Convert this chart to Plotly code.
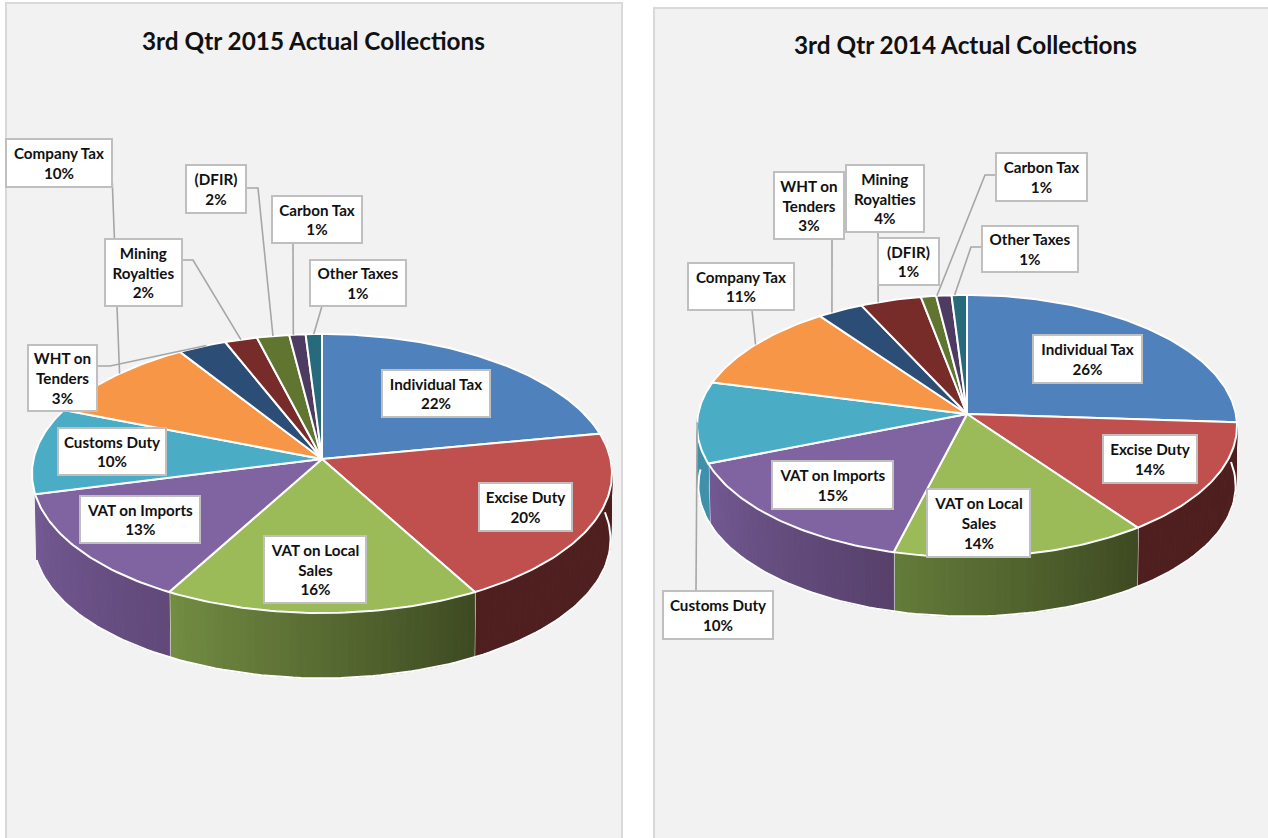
import numpy as np
import plotly.graph_objects as go

# Revenue shares, clockwise from 12 o'clock
categories = ["Individual Tax", "Excise Duty", "VAT on Local Sales", "VAT on Imports",
              "Customs Duty", "Company Tax", "WHT on Tenders", "Mining Royalties",
              "(DFIR)", "Carbon Tax", "Other Taxes"]
shares_2015 = [22, 20, 16, 13, 10, 10, 3, 2, 2, 1, 1]
shares_2014 = [26, 14, 14, 15, 10, 11, 3, 4, 1, 1, 1]

# Label wording with the forced line breaks used in the boxes
label_text = ["Individual Tax", "Excise Duty", "VAT on Local<br>Sales", "VAT on Imports",
              "Customs Duty", "Company Tax", "WHT on<br>Tenders", "Mining<br>Royalties",
              "(DFIR)", "Carbon Tax", "Other Taxes"]

top_colors = ["#4f81bd", "#c0504d", "#9bbb59", "#8064a2", "#4bacc6", "#f79646",
              "#2c4d75", "#772c2a", "#5f7530", "#4d3b62", "#276a7c"]
# Wall shading per slice: colour at the clockwise start, colour at the clockwise end
shades_2015 = {1: ("#4e1f1e", "#4e1f1e"), 2: ("#3e4a22", "#738d43"), 3: ("#62497a", "#745a94")}
shades_2014 = {1: ("#4e1f1e", "#4e1f1e"), 2: ("#3e4a22", "#647c3a"), 3: ("#57416b", "#745a94"),
               4: ("#3f91ab", "#3f91ab")}

# Pie geometry: centre, half width, vertical radius, perspective, wall depth,
# base scale, and the clockwise angle where the visible wall stops
geom_2015 = dict(cx=322, cy=459, widest=290, ry=138, k=0.104, depth=66, base=0.995, wall_end=255.6)
geom_2014 = dict(cx=967, cy=414, widest=270, ry=130, k=0.092, depth=60, base=0.995, wall_end=272)

# Label boxes: category -> (left, top, right, bottom)
boxes_2015 = {0: (382, 370, 490, 417), 1: (479, 483, 572, 531), 2: (264, 536, 366, 603),
              3: (80, 496, 200, 543), 4: (58, 428, 166, 475), 5: (6, 139, 112, 187),
              6: (28, 345, 97, 411), 7: (105, 239, 182, 306), 8: (186, 165, 246, 213),
              9: (272, 196, 362, 243), 10: (310, 260, 406, 306)}
boxes_2014 = {0: (1033, 335, 1142, 383), 1: (1103, 435, 1197, 483), 2: (927, 489, 1030, 557),
              3: (772, 461, 893, 509), 4: (663, 591, 773, 639), 5: (688, 263, 794, 310),
              6: (774, 172, 844, 239), 7: (846, 165, 924, 232), 8: (878, 238, 939, 285),
              9: (996, 153, 1087, 201), 10: (982, 226, 1078, 272)}

# Leader paths leave the box through these points, then run to the slice rim
leaders_2015 = {5: [(112, 175)], 6: [(97, 366), (110, 366)], 7: [(182, 260), (193, 260)],
                8: [(246, 188), (258, 188)], 9: [(293, 243)], 10: [(322, 306)]}
leaders_2014 = {4: [(696, 591)], 5: [(752, 310)], 6: [(832, 239)], 7: [(878, 232)],
                9: [(996, 175), (985, 175)], 10: [(982, 247), (971, 247)]}
# Where along its slice's arc a leader lands (0 start, 1 end); default is the middle
landing_2015 = {5: 0.55, 6: 0.59, 9: 0.25}
landing_2014 = {6: 0.3, 7: 0.29, 9: 0.05, 10: 0.2}

GRID = "#d9d9d9"
PANEL = "#f2f2f2"
FONT = "Lato"

fig = go.Figure()


def hex_rgb(c):
    return np.array([int(c[i:i + 2], 16) for i in (1, 3, 5)], dtype=float)


def project(g, theta, scale=1.0, drop=0.0):
    """Map a clockwise angle on the pie disc to canvas coordinates with perspective."""
    rx = g["widest"] * np.sqrt(1 - g["k"] ** 2)
    u, v = np.sin(theta), np.cos(theta)
    w = 1 + g["k"] * v
    return g["cx"] + scale * rx * u / w, g["cy"] - scale * g["ry"] * v / w + drop


def poly(x, y, fill, line=None, width=0):
    fig.add_trace(go.Scatter(x=list(x), y=list(y), mode="lines", fill="toself", fillcolor=fill,
                             line=dict(color=line or fill, width=width), hoverinfo="skip",
                             showlegend=False))


def stroke(x, y, color, width):
    fig.add_trace(go.Scatter(x=list(x), y=list(y), mode="lines", line=dict(color=color, width=width),
                             hoverinfo="skip", showlegend=False))


def draw_pie(shares, g, shades):
    edges = np.radians(np.cumsum([0] + shares) * 3.6)
    wall_end = np.radians(g["wall_end"])
    # Side wall: narrow shaded bands between the top rim and the base rim
    for i, (a, b) in enumerate(zip(edges[:-1], edges[1:])):
        lo, hi = max(a, np.pi * 0.4), min(b, wall_end)
        if lo >= hi:
            continue
        first, last = [hex_rgb(c) for c in shades.get(i, (top_colors[i], top_colors[i]))]
        n = max(2, int(np.degrees(hi - lo) / 1.5))
        th = np.linspace(lo, hi, n + 1)
        for j in range(n):
            t = (j + 0.5) / n
            c = first * (1 - t) + last * t
            seg = np.linspace(th[j], th[j + 1], 3)
            xt, yt = project(g, seg)
            xb, yb = project(g, seg, scale=g["base"], drop=g["depth"])
            color = "rgb(%d,%d,%d)" % tuple(c)
            poly(np.r_[xt, xb[::-1], xt[0]], np.r_[yt, yb[::-1], yt[0]], color, width=1)
        # White seam where two walls meet
        if np.pi * 0.5 < b < np.pi * 1.5 and b < wall_end:
            x0, y0 = project(g, b)
            x1, y1 = project(g, b, scale=g["base"], drop=g["depth"])
            stroke([x0, x1], [y0, y1], "white", 2)
    # White edge along the base of the wall
    th = np.linspace(np.pi * 0.47, wall_end, 120)
    xb, yb = project(g, th, scale=g["base"], drop=g["depth"])
    stroke(xb, yb, "white", 2)
    # Top face
    for i, (a, b) in enumerate(zip(edges[:-1], edges[1:])):
        th = np.linspace(a, b, max(3, int(np.degrees(b - a))))
        x, y = project(g, th)
        poly(np.r_[g["cx"], x, g["cx"]], np.r_[g["cy"], y, g["cy"]], top_colors[i], "white", 2)


def draw_leaders(shares, g, leaders, landing):
    edges = np.cumsum([0] + shares) * 3.6
    for i, pts in leaders.items():
        f = landing.get(i, 0.5)
        spot = np.radians(edges[i] + f * (edges[i + 1] - edges[i]))
        xe, ye = project(g, spot)
        xs = [p[0] for p in pts] + [float(xe)]
        ys = [p[1] for p in pts] + [float(ye)]
        stroke(xs, ys, "#a6a6a6", 1.6)


def draw_labels(shares, boxes):
    for i, (x0, y0, x1, y1) in boxes.items():
        fig.add_annotation(x=(x0 + x1) / 2, y=(y0 + y1) / 2, xref="x", yref="y",
                           text=f"<b>{label_text[i]}<br>{shares[i]}%</b>", showarrow=False,
                           xanchor="center", yanchor="middle", align="center",
                           width=x1 - x0 - 2, height=y1 - y0 - 2, borderpad=0, borderwidth=2,
                           bgcolor="white", bordercolor="#bfbfbf",
                           font=dict(family=FONT, size=15.2, color="#111111"))


shapes = [
    dict(type="rect", xref="x", yref="y", x0=6, y0=3, x1=622, y1=845,
         fillcolor=PANEL, line=dict(color=GRID, width=2), layer="below"),
    dict(type="rect", xref="x", yref="y", x0=654, y0=8, x1=1275, y1=845,
         fillcolor=PANEL, line=dict(color=GRID, width=2), layer="below"),
]

draw_pie(shares_2015, geom_2015, shades_2015)
draw_pie(shares_2014, geom_2014, shades_2014)
draw_leaders(shares_2015, geom_2015, leaders_2015, landing_2015)
draw_leaders(shares_2014, geom_2014, leaders_2014, landing_2014)
draw_labels(shares_2015, boxes_2015)
draw_labels(shares_2014, boxes_2014)

for text, x, y in [("3rd Qtr 2015 Actual Collections", 313.5, 40),
                   ("3rd Qtr 2014 Actual Collections", 965, 44)]:
    fig.add_annotation(x=x, y=y, xref="x", yref="y", text=f"<b>{text}</b>", showarrow=False,
                       font=dict(family=FONT, size=24.3, color="#111111"))

fig.update_layout(
    width=1268, height=838, margin=dict(l=0, r=0, t=0, b=0), autosize=False,
    paper_bgcolor="white", plot_bgcolor="white", shapes=shapes, showlegend=False,
    xaxis=dict(range=[0, 1268], visible=False, fixedrange=True),
    yaxis=dict(range=[838, 0], visible=False, fixedrange=True),
)
fig.write_html("out.html", config=dict(displayModeBar=False))
